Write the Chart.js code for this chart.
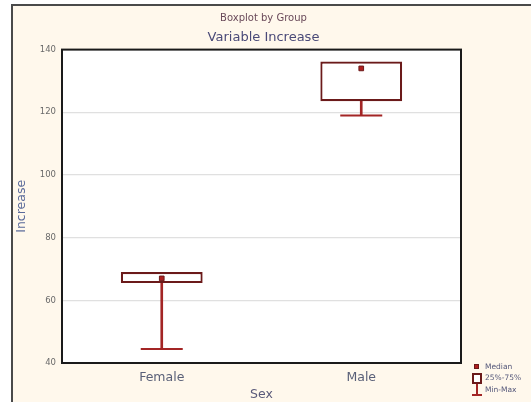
<!DOCTYPE html>
<html>
<head>
<meta charset="utf-8">
<script src="https://cdn.jsdelivr.net/npm/chart.js@4.4.1/dist/chart.umd.min.js"></script>
<style>
    html, body { margin: 0; padding: 0; background: #fff; overflow: hidden; }
    #frame {
        position: absolute; left: 11px; top: 4px; width: 540px; height: 420px;
        border: 2px solid #4a4a4a; background: #fff8ec;
    }
    #wrap { position: absolute; left: 0; top: 0; width: 531px; height: 402px; }
</style>
</head>
<body>
<div id="frame"></div>
<div id="wrap"><canvas id="chart" width="531" height="402"></canvas></div>
<script>
// data
const categories = ['Female', 'Male'];
const mins = [44.5, 119];
const q1s = [65.5, 123.5];
const medians = [67, 134];
const q3s = [69, 136.2];
const maxs = [69, 136.2];
const yTicks = [40, 60, 80, 100, 120, 140];

const boxColor = '#6b1a1a';
const whiskerColor = '#a32525';
const textColor = '#55587a';

// white plot area + black frame round it
const plotBg = {
    id: 'plotBg',
    beforeDraw(chart) {
        const { ctx, chartArea: a } = chart;
        ctx.save();
        ctx.fillStyle = '#ffffff';
        ctx.fillRect(a.left, a.top, a.right - a.left, a.bottom - a.top);
        ctx.restore();
    },
    afterDraw(chart) {
        const { ctx, chartArea: a } = chart;
        ctx.save();
        ctx.strokeStyle = '#1a1a1a';
        ctx.lineWidth = 2;
        ctx.strokeRect(a.left, a.top, a.right - a.left, a.bottom - a.top);
        ctx.restore();
    }
};

// small legend in the bottom right corner
const boxLegend = {
    id: 'boxLegend',
    afterDraw(chart) {
        const ctx = chart.ctx;
        const x = chart.chartArea.right + 12;
        const y = chart.chartArea.bottom;
        ctx.save();
        // median
        ctx.fillStyle = '#b02020';
        ctx.strokeStyle = boxColor;
        ctx.lineWidth = 1;
        ctx.fillRect(x + 1.5, y + 1.5, 4, 4);
        ctx.strokeRect(x + 1.5, y + 1.5, 4, 4);
        // box
        ctx.fillStyle = '#fff';
        ctx.lineWidth = 2;
        ctx.fillRect(x, y + 11, 8, 9);
        ctx.strokeRect(x, y + 11, 8, 9);
        // min-max
        ctx.strokeStyle = whiskerColor;
        ctx.beginPath();
        ctx.moveTo(x + 4, y + 21);
        ctx.lineTo(x + 4, y + 32);
        ctx.moveTo(x - 1, y + 32);
        ctx.lineTo(x + 9, y + 32);
        ctx.stroke();
        ctx.fillStyle = textColor;
        ctx.font = '7.5px "DejaVu Sans"';
        ctx.textBaseline = 'middle';
        ctx.fillText('Median', x + 12, y + 4);
        ctx.fillText('25%-75%', x + 12, y + 15);
        ctx.fillText('Min-Max', x + 12, y + 27);
        ctx.restore();
    }
};

new Chart(document.getElementById('chart'), {
    data: {
        labels: categories,
        datasets: [
            {
                type: 'line',
                label: 'Median',
                data: medians,
                showLine: false,
                pointStyle: 'rect',
                pointRadius: 3.3,
                pointBackgroundColor: '#b02020',
                pointBorderColor: boxColor,
                pointBorderWidth: 1
            },
            {
                type: 'bar',
                label: '25%-75%',
                data: categories.map((c, i) => [q1s[i], q3s[i]]),
                backgroundColor: '#ffffff',
                borderColor: boxColor,
                borderWidth: 2.2,
                borderSkipped: false,
                grouped: false,
                barPercentage: 0.41,
                categoryPercentage: 1
            },
            {
                // stem from the minimum up to the box (max sits on the box top)
                type: 'bar',
                label: 'Min-Max',
                data: categories.map((c, i) => [mins[i], Math.min(q1s[i], maxs[i])]),
                backgroundColor: whiskerColor,
                borderWidth: 0,
                grouped: false,
                barThickness: 2
            },
            {
                type: 'line',
                label: 'Min cap',
                data: mins,
                showLine: false,
                pointStyle: 'line',
                pointRadius: 21,
                pointBorderColor: whiskerColor,
                pointBorderWidth: 2
            }
        ]
    },
    options: {
        responsive: false,
        animation: false,
        layout: { padding: { left: 8, right: 12, top: 0, bottom: 0 } },
        plugins: {
            legend: { display: false },
            tooltip: { enabled: false },
            title: {
                display: true,
                text: 'Boxplot by Group',
                color: '#6a4a5a',
                font: { family: 'DejaVu Sans', size: 10, weight: 'normal' },
                padding: { top: 12, bottom: 2 }
            },
            subtitle: {
                display: true,
                text: 'Variable Increase',
                color: '#4a4a78',
                font: { family: 'DejaVu Sans', size: 13 },
                padding: { top: 4, bottom: 4 }
            }
        },
        scales: {
            x: {
                type: 'category',
                offset: true,
                grid: { display: false, drawTicks: false },
                border: { display: false },
                ticks: {
                    color: '#5a6078',
                    font: { family: 'DejaVu Sans', size: 12.5 },
                    padding: 7
                },
                title: {
                    display: true,
                    text: 'Sex',
                    color: '#5a5a7a',
                    font: { family: 'DejaVu Sans', size: 12.5 },
                    padding: { top: 2, bottom: 0 }
                },
                afterFit(scale) { scale.height = 39; }
            },
            y: {
                min: 40,
                max: 140,
                afterBuildTicks(scale) { scale.ticks = yTicks.map(v => ({ value: v })); },
                grid: { color: '#e0e0e0', lineWidth: 1.2, drawTicks: false },
                border: { display: false },
                ticks: {
                    color: '#6a6a6a',
                    font: { family: 'DejaVu Sans', size: 8.5 },
                    padding: 6
                },
                title: {
                    display: true,
                    text: 'Increase',
                    color: '#5a6a9a',
                    font: { family: 'DejaVu Sans', size: 12.5 },
                    padding: { top: 6, bottom: 4 }
                },
                afterFit(scale) { scale.width = 54; }
            },
            // empty right-hand strip that holds the legend
            yr: {
                position: 'right',
                display: true,
                grid: { display: false, drawTicks: false },
                border: { display: false },
                ticks: { display: false },
                afterFit(scale) { scale.width = 58; }
            }
        }
    },
    plugins: [plotBg, boxLegend]
});
</script>
</body>
</html>
